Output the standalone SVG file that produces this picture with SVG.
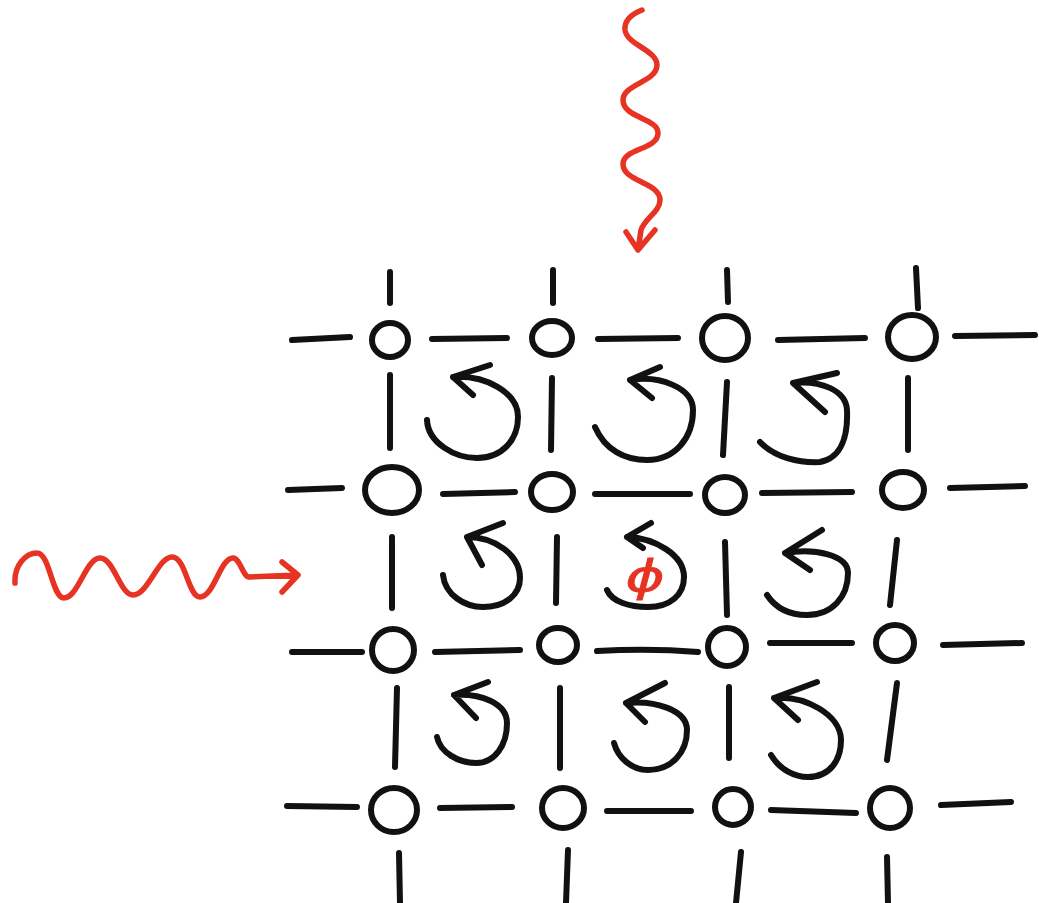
<svg xmlns="http://www.w3.org/2000/svg" width="1039" height="903" viewBox="0 0 1039 903">
  <style>
    .ink { fill: none; stroke: #111; stroke-width: 6; stroke-linecap: round; stroke-linejoin: round; }
    .site { fill: none; stroke: #111; stroke-width: 6; }
    .wave { fill: none; stroke: #e63323; stroke-width: 5.5; stroke-linecap: round; stroke-linejoin: round; }
    .flux { fill: #e63323; stroke: #e63323; stroke-width: 0.8; font-family: "DejaVu Sans", sans-serif; font-style: italic; font-size: 44px; }
  </style>
  <rect width="1039" height="903" fill="#fff"/>

  <!-- lattice bonds -->
  <g id="bonds" class="ink">
    <path d="M292,340 L350,337 M432,339 L507,338 M598,339 L678,338 M778,340 L865,338 M955,336 L1035,335"/>
    <path d="M288,490 L342,488 M443,494 L515,492 M595,494 L690,494 M762,493 L852,492 M950,488 L1025,486"/>
    <path d="M292,652 L362,652 M435,652 L520,650 M597,651 Q650,648 698,652 M770,643 L852,643 M943,645 L1022,643"/>
    <path d="M287,806 L357,807 M440,808 L512,807 M607,811 L691,811 M771,810 L856,813 M941,805 L1011,802"/>
    <path d="M390,272 L390,303 M553,270 L553,303 M727,270 L728,302 M916,268 L918,308"/>
    <path d="M390,375 L390,448 M552,378 L551,450 M727,382 L723,455 M908,378 L908,450"/>
    <path d="M392,537 L392,608 M557,537 L556,603 M725,542 L727,615 M897,540 L890,605"/>
    <path d="M397,688 L395,767 M560,688 L560,768 M729,687 L729,758 M897,683 L887,760"/>
    <path d="M399,853 L400,903 M568,850 L566,903 M741,852 L736,903 M887,857 L888,903"/>
  </g>

  <!-- lattice sites -->
  <g id="site-1-1"><ellipse class="site" cx="390" cy="340" rx="18" ry="17"/></g>
  <g id="site-1-2"><ellipse class="site" cx="552" cy="338" rx="20" ry="17"/></g>
  <g id="site-1-3"><ellipse class="site" cx="725" cy="338" rx="23" ry="22"/></g>
  <g id="site-1-4"><ellipse class="site" cx="912" cy="337" rx="24" ry="22"/></g>
  <g id="site-2-1"><ellipse class="site" cx="392" cy="490" rx="27" ry="23"/></g>
  <g id="site-2-2"><ellipse class="site" cx="552" cy="492" rx="21" ry="18"/></g>
  <g id="site-2-3"><ellipse class="site" cx="725" cy="495" rx="20" ry="18"/></g>
  <g id="site-2-4"><ellipse class="site" cx="903" cy="490" rx="21" ry="18"/></g>
  <g id="site-3-1"><ellipse class="site" cx="393" cy="650" rx="21" ry="21"/></g>
  <g id="site-3-2"><ellipse class="site" cx="558" cy="645" rx="19" ry="17"/></g>
  <g id="site-3-3"><ellipse class="site" cx="727" cy="647" rx="19" ry="19"/></g>
  <g id="site-3-4"><ellipse class="site" cx="895" cy="643" rx="19" ry="18"/></g>
  <g id="site-4-1"><ellipse class="site" cx="394" cy="810" rx="23" ry="22"/></g>
  <g id="site-4-2"><ellipse class="site" cx="563" cy="808" rx="21" ry="20"/></g>
  <g id="site-4-3"><ellipse class="site" cx="733" cy="807" rx="18" ry="18"/></g>
  <g id="site-4-4"><ellipse class="site" cx="890" cy="808" rx="20" ry="20"/></g>

  <!-- circulating arrows, one per plaquette -->
  <g id="plaquette-1" class="ink"><path d="M427,420 C428,443 455,458 477,458 C502,458 518,440 518,417 C518,392 485,375 453,377 M490,365 L453,377 L473,395"/></g>
  <g id="plaquette-2" class="ink"><path d="M595,427 C605,450 625,460 647,460 C675,460 693,438 693,410 C693,388 660,375 630,380 M660,367 L630,380 L652,398"/></g>
  <g id="plaquette-3" class="ink"><path d="M760,442 C775,458 800,463 820,462 C842,458 848,435 847,410 C846,390 820,380 793,383 M837,373 L793,383 L825,412"/></g>
  <g id="plaquette-4" class="ink"><path d="M443,575 C445,595 465,607 483,607 C505,607 520,595 520,578 C520,555 495,537 467,537 M503,523 L467,537 L482,565"/></g>
  <g id="plaquette-5">
    <path class="ink" d="M607,590 C612,602 630,607 648,607 C670,607 684,595 684,577 C684,555 655,538 627,537 M651,523 L627,537 L643,548"/>
    <text class="flux" transform="translate(645,578) scale(1.35,0.95)" x="0" y="14" text-anchor="middle">ϕ</text>
  </g>
  <g id="plaquette-6" class="ink"><path d="M767,595 C777,610 792,615 807,615 C832,615 848,597 848,573 C848,555 815,548 785,553 M822,530 L785,553 L810,570"/></g>
  <g id="plaquette-7" class="ink"><path d="M437,737 C440,752 458,763 476,763 C495,763 507,745 507,723 C507,703 480,693 454,695 M488,682 L454,695 L476,718"/></g>
  <g id="plaquette-8" class="ink"><path d="M614,743 C618,758 632,770 648,770 C672,770 687,752 687,730 C687,710 655,700 626,703 M665,683 L626,703 L645,722"/></g>
  <g id="plaquette-9" class="ink"><path d="M771,755 C780,770 795,777 808,777 C830,777 841,760 841,740 C841,715 805,695 774,698 M817,682 L774,698 L798,720"/></g>

  <!-- incoming wavy photons -->
  <g id="wave-left" class="wave">
    <path d="M15,583 C14,565 26,553 37,553 C50,553 52,598 64,598 C78,598 86,558 100,558 C114,558 120,595 133,595 C148,595 158,557 172,557 C186,557 188,597 200,597 C214,597 220,558 233,558 C240,558 243,577 249,577 L298,575 M282,562 L298,575 L282,592"/>
  </g>
  <g id="wave-top" class="wave">
    <path d="M642,10 C632,14 624,20 625,30 C627,45 657,50 657,65 C657,82 623,84 623,100 C623,118 658,118 658,133 C658,150 623,148 623,164 C623,182 660,182 660,200 C660,212 645,218 641,230 L638,250 M626,232 L638,250 L655,230"/>
  </g>
</svg>
